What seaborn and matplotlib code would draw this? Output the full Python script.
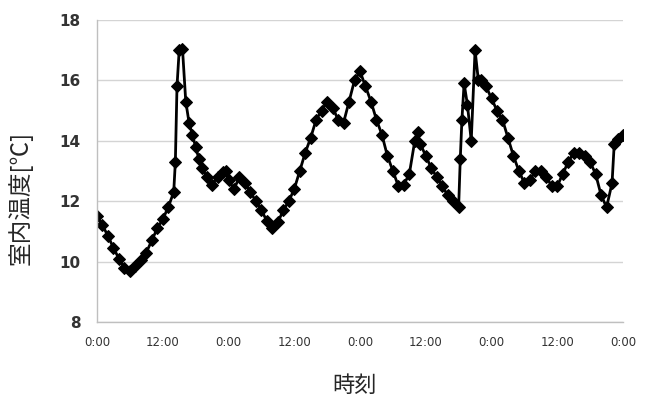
import pandas as pd
import matplotlib

matplotlib.use("Agg")
import matplotlib.pyplot as plt
import seaborn as sns

# elapsed hours since the first 0:00, and indoor temperature
hours = [
    0, 1, 2, 3, 4, 5, 6, 7, 8, 9, 10, 11, 12, 13, 14, 14.3, 14.6, 15.0, 15.6,
    16.2, 16.8, 17.4, 18, 18.6, 19.2, 20, 21, 22, 23, 23.5, 24, 25, 26, 27, 28,
    29, 30, 31, 32, 33, 34, 35, 36, 37, 38, 39, 40, 41, 42, 43, 44, 45, 46, 47,
    48, 49, 50, 51, 52, 53, 54, 55, 56, 57, 58, 58.5, 59, 60, 61, 62, 63, 64,
    65, 66, 66.3, 66.6, 67, 67.6, 68.3, 69, 69.6, 70, 71, 72, 73, 74, 75, 76,
    77, 78, 79, 80, 81, 82, 83, 84, 85, 86, 87, 88, 89, 90, 91, 92, 93, 94,
    94.4, 95, 96,
]
temps = [
    11.5, 11.2, 10.85, 10.45, 10.1, 9.8, 9.7, 9.85, 10.05, 10.3, 10.7, 11.1,
    11.4, 11.8, 12.3, 13.3, 15.8, 17.0, 17.05, 15.3, 14.6, 14.2, 13.8, 13.4,
    13.1, 12.8, 12.55, 12.8, 12.95, 13.0, 12.7, 12.4, 12.8, 12.6, 12.3, 12.0,
    11.7, 11.35, 11.1, 11.3, 11.7, 12.0, 12.4, 13.0, 13.6, 14.1, 14.7, 15.0,
    15.3, 15.1, 14.7, 14.6, 15.3, 16.0, 16.3, 15.8, 15.3, 14.7, 14.2, 13.5,
    13.0, 12.5, 12.55, 12.9, 14.0, 14.3, 13.9, 13.5, 13.1, 12.8, 12.5, 12.2,
    12.0, 11.8, 13.4, 14.7, 15.9, 15.2, 14.0, 17.0, 16.0, 16.0, 15.8, 15.4,
    15.0, 14.7, 14.1, 13.5, 13.0, 12.6, 12.7, 13.0, 13.0, 12.8, 12.5, 12.5,
    12.9, 13.3, 13.6, 13.6, 13.5, 13.3, 12.9, 12.2, 11.8, 12.6, 13.9, 14.05,
    14.2,
]

tick_hours = [0, 12, 24, 36, 48, 60, 72, 84, 96]
tick_labels = ["0:00", "12:00", "0:00", "12:00", "0:00", "12:00", "0:00", "12:00", "0:00"]
y_ticks = [8, 10, 12, 14, 16, 18]

df = pd.DataFrame({"hour": hours, "temp": temps})

sns.set_theme(style="whitegrid")
plt.rcParams["font.family"] = ["Noto Sans CJK JP", "DejaVu Sans"]

fig = plt.figure(figsize=(6.51, 3.99), dpi=100)
ax = fig.add_axes([0.149, 0.193, 0.808, 0.757])

sns.lineplot(
    data=df,
    x="hour",
    y="temp",
    color="black",
    linewidth=2,
    marker="D",
    markersize=6.5,
    markeredgecolor="black",
    ax=ax,
)

ax.set_xlim(0, 96)
ax.set_ylim(8, 18)
ax.set_xticks(tick_hours)
ax.set_xticklabels(tick_labels, fontsize=8.5, color="#333333", family="DejaVu Sans")
ax.set_yticks(y_ticks)
ax.set_yticklabels([str(v) for v in y_ticks], fontsize=11, color="#333333",
                   family="DejaVu Sans", fontweight="bold")

ax.grid(axis="y", color="#d4d4d4", linewidth=1)
ax.grid(axis="x", visible=False)
ax.set_facecolor("white")
for side in ["top", "right"]:
    ax.spines[side].set_visible(False)
for side in ["left", "bottom"]:
    ax.spines[side].set_color("#bfbfbf")
    ax.spines[side].set_linewidth(1)
ax.tick_params(axis="both", length=4, color="#bfbfbf", direction="out")
ax.tick_params(axis="y", pad=8)
ax.tick_params(axis="x", pad=6)

ax.set_xlabel("時刻", fontsize=16)
ax.set_ylabel("室内温度[℃]", fontsize=17)
ax.xaxis.set_label_coords(0.489, -0.172)
ax.yaxis.set_label_coords(-0.122, 0.41)

fig.savefig("out.png", dpi=100)
plt.close(fig)
